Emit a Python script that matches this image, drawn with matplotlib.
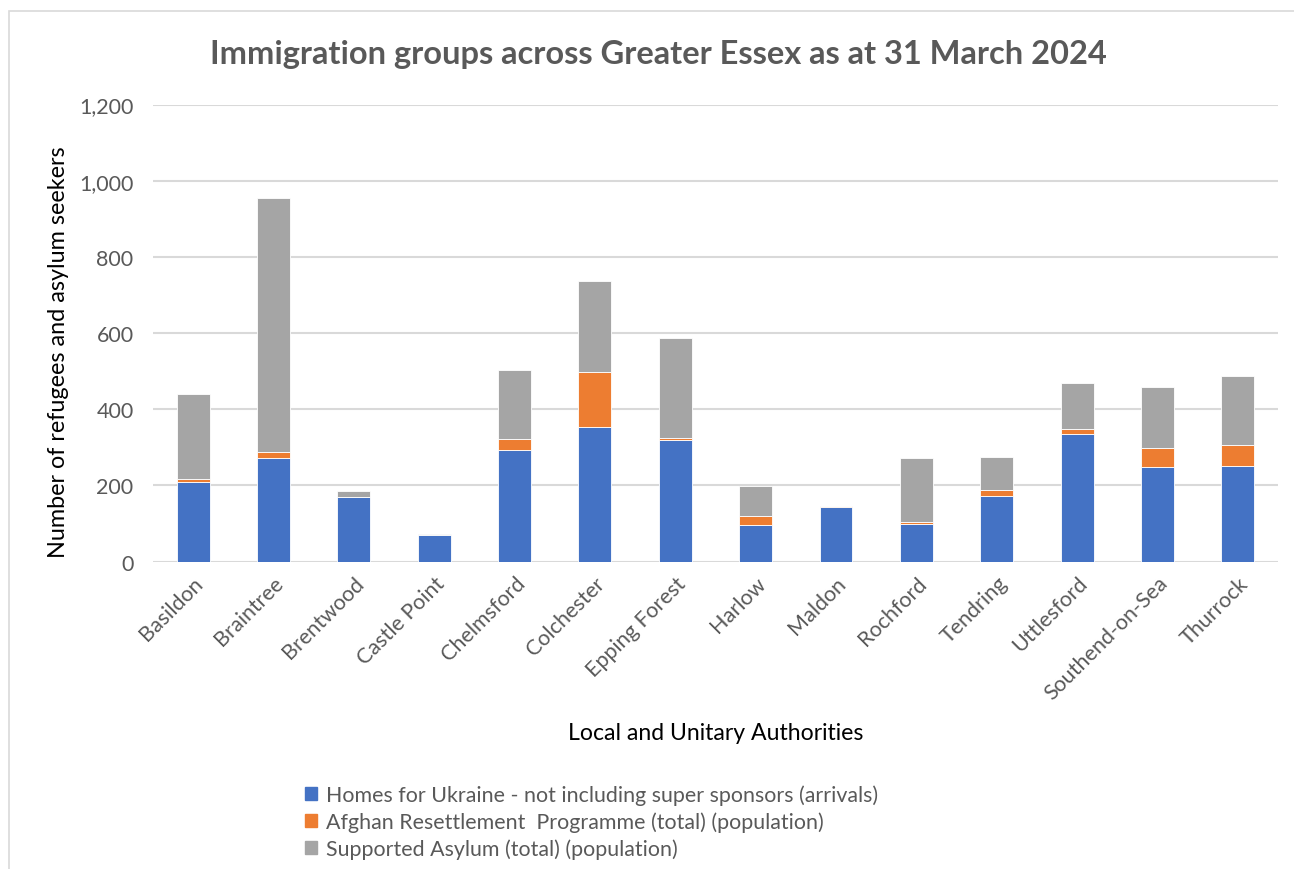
import numpy as np
import matplotlib.pyplot as plt
from matplotlib.patches import Rectangle

# Values
authorities = ['Basildon', 'Braintree', 'Brentwood', 'Castle Point', 'Chelmsford',
               'Colchester', 'Epping Forest', 'Harlow', 'Maldon', 'Rochford',
               'Tendring', 'Uttlesford', 'Southend-on-Sea', 'Thurrock']
ukraine = [210, 271, 169, 70, 293, 354, 319, 96, 142, 98, 172, 335, 249, 252]
afghan = [7, 16, 0, 0, 29, 143, 6, 24, 4, 7, 16, 13, 50, 54]
asylum = [222, 668, 15, 2, 181, 240, 262, 78, 0, 166, 86, 121, 160, 182]

series_names = ['Homes for Ukraine - not including super sponsors (arrivals)',
                'Afghan Resettlement  Programme (total) (population)',
                'Supported Asylum (total) (population)']
colors = ['#4472C4', '#ED7D31', '#A5A5A5']
y_ticks = [0, 200, 400, 600, 800, 1000, 1200]

plt.rcParams['font.family'] = ['Lato', 'DejaVu Sans']
text_grey = '#595959'

fig = plt.figure(figsize=(12.94, 8.7), dpi=100)
ax = fig.add_axes([0.1182, 0.3534, 0.8694, 0.5253])

x = np.arange(len(authorities))
bottom = np.zeros(len(authorities))
for vals, name, col in zip([ukraine, afghan, asylum], series_names, colors):
    ax.bar(x, vals, width=0.41, bottom=bottom, color=col, label=name,
           edgecolor='white', linewidth=0.6, zorder=3)
    bottom = bottom + np.array(vals)

ax.set_xlim(-0.5, len(authorities) - 0.5)
ax.set_ylim(0, 1200)
ax.set_yticks(y_ticks)
ax.set_yticklabels([f'{v:,}' for v in y_ticks])
ax.yaxis.grid(True, color='#D9D9D9', linewidth=1.5, zorder=0)
ax.set_axisbelow(True)
for s in ax.spines.values():
    s.set_visible(False)
ax.tick_params(axis='both', length=0, colors=text_grey, labelsize=15.5)
ax.tick_params(axis='y', pad=14)
ax.set_xticks(x)
ax.set_xticklabels(authorities, rotation=45, ha='right', rotation_mode='anchor')
ax.tick_params(axis='x', pad=8)

ax.set_ylabel('Number of refugees and asylum seekers', fontsize=16.8, color='black')
ax.yaxis.set_label_coords(-0.075, 0.46)
fig.text(0.553, 0.157, 'Local and Unitary Authorities', fontsize=16.6, color='black',
         ha='center', va='center')

fig.text(0.509, 0.937, 'Immigration groups across Greater Essex as at 31 March 2024',
         fontsize=23.5, fontweight='bold', color=text_grey, ha='center', va='center')

handles = [Rectangle((0, 0), 1, 1, color=c) for c in colors]
fig.legend(handles, series_names, loc='upper left', bbox_to_anchor=(0.236, 0.097),
           frameon=False, fontsize=15.4, labelcolor=text_grey, handlelength=0.55,
           handleheight=0.55, handletextpad=0.4, labelspacing=0.3,
           borderaxespad=0, borderpad=0)

# light border around the chart area
fig.patches.append(Rectangle((9 / 1294, -0.1), 1.2, 1 - 12 / 870 + 0.1,
                             transform=fig.transFigure, fill=False,
                             edgecolor='#D9D9D9', linewidth=1.2))

fig.savefig('out.png', dpi=100)
